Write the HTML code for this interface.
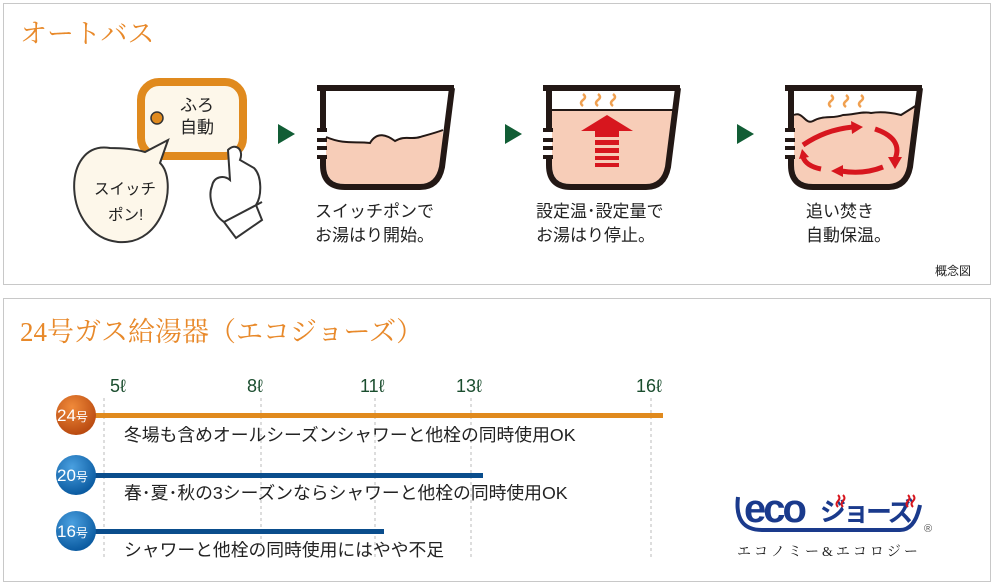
<!DOCTYPE html>
<html><head><meta charset="utf-8"><style>
body{margin:0;background:#fff;width:994px;height:585px;overflow:hidden}
svg{display:block}
.t{font-family:"Liberation Sans","Noto Sans CJK JP",sans-serif;fill:#222}
.h{font-family:"Liberation Serif","Noto Serif CJK SC",serif;fill:#e8892a}
</style></head><body>
<svg width="994" height="585" viewBox="0 0 994 585">
<defs>
<g id="tub">
 <path d="M2,3 H139" stroke="#231815" stroke-width="6" fill="none"/>
 <path d="M137,3 L127,82 Q123,102 105,102 H30 Q8,102 8,80 V72" stroke="#231815" stroke-width="6" fill="none"/>
 <path d="M8,3 V45" stroke="#231815" stroke-width="6" fill="none"/>
 <path d="M2,45 H12 M2,55 H12 M2,63 H12 M2,72 H12" stroke="#231815" stroke-width="4"/>
</g>
<g id="steam" stroke="#f0a050" stroke-width="2.5" fill="none">
 <path d="M0,0 q4,3 0,6 q-4,3 0,6"/>
</g>
</defs>
<rect x="3.5" y="3.5" width="987" height="281" fill="#fff" stroke="#c8c8c8"/>
<rect x="3.5" y="298.5" width="987" height="283" fill="#fff" stroke="#c8c8c8"/>
<text class="h" x="20" y="43" font-size="27">オートバス</text>
<text class="h" x="20" y="341" font-size="27">24号ガス給湯器（エコジョーズ）</text>
<!-- button -->
<rect x="141" y="82" width="102" height="74" rx="18" fill="#fdf7ea" stroke="#e08a1e" stroke-width="8"/>
<circle cx="157" cy="118" r="6" fill="#e08a1e" stroke="#333" stroke-width="1.5"/>
<text class="t" x="180" y="111" font-size="17">ふろ</text>
<text class="t" x="180" y="133" font-size="17">自動</text>
<!-- bubble -->
<path d="M110,148 C60,140 62,236 118,242 C165,246 178,180 160,163 L168,140 L145,152 C135,149 120,148 110,148Z" fill="#fdf7ea" stroke="#333" stroke-width="2"/>
<text class="t" x="94" y="194" font-size="15.5">スイッチ</text>
<text class="t" x="108" y="220" font-size="15.5">ポン!</text>
<!-- hand -->
<path d="M228,150 C236,142 244,150 240,160 L254,168 C262,176 262,196 256,205 L262,220 L236,238 L224,222 C212,214 208,196 212,186 C214,176 224,175 230,180 Z" fill="#fff" stroke="#333" stroke-width="2"/>
<path d="M224,222 L262,202" stroke="#333" stroke-width="2"/>
<!-- arrows -->
<path d="M278,124 L295,134 L278,144Z" fill="#115d35"/>
<path d="M505,124 L522,134 L505,144Z" fill="#115d35"/>
<path d="M737,124 L754,134 L737,144Z" fill="#115d35"/>
<!-- tub 1 -->
<g transform="translate(315,85)">
 <path d="M11,52 C30,60 40,56 55,58 C62,46 72,50 80,56 C90,50 96,55 105,52 C112,50 120,48 128,45 L126,82 Q122,99 105,99 H30 Q11,99 11,80Z" fill="#f7cdb8"/>
 <path d="M11,52 C30,60 40,56 55,58 C62,46 72,50 80,56 C90,50 96,55 105,52 C112,50 120,48 128,45" stroke="#231815" stroke-width="2" fill="none"/>
 <use href="#tub"/>
</g>
<text class="t" x="315" y="217" font-size="17">スイッチポンで</text>
<text class="t" x="315" y="241" font-size="17">お湯はり開始。</text>
<!-- tub 2 -->
<g transform="translate(541,85)">
 <path d="M11,25 H134 L127,82 Q122,99 105,99 H30 Q11,99 11,80Z" fill="#f7cdb8"/>
 <path d="M11,25 H134" stroke="#231815" stroke-width="2"/>
 <use href="#steam" x="42" y="9"/><use href="#steam" x="57" y="9"/><use href="#steam" x="72" y="9"/>
 <path d="M40,46 L66,30 L92,46 H78 V52 H54 V46Z" fill="#d7161e"/>
 <rect x="54" y="55" width="24" height="5" fill="#d7161e"/><rect x="54" y="63" width="24" height="5" fill="#d7161e"/><rect x="54" y="71" width="24" height="4" fill="#d7161e"/><rect x="54" y="78" width="24" height="4" fill="#d7161e"/>
 <use href="#tub"/>
</g>
<text class="t" x="536" y="217" font-size="17">設定温･設定量で</text>
<text class="t" x="536" y="241" font-size="17">お湯はり停止。</text>
<!-- tub 3 -->
<g transform="translate(783,85)">
 <path d="M11,30 C20,26 22,40 30,36 C40,30 50,34 60,30 C70,30 80,26 88,28 C100,26 110,28 118,30 L134,20 L127,82 Q122,99 105,99 H30 Q11,99 11,80Z" fill="#f7cdb8"/>
 <path d="M11,30 C20,26 22,40 30,36 C40,30 50,34 60,30 C70,30 80,26 88,28 C100,26 110,28 118,30 L134,20" stroke="#231815" stroke-width="2" fill="none"/>
 <use href="#steam" x="48" y="10"/><use href="#steam" x="63" y="10"/><use href="#steam" x="78" y="10"/>
 <g stroke="#d7161e" stroke-width="5" fill="none">
  <path d="M20,60 C35,50 50,44 70,42"/>
  <path d="M92,44 C110,50 118,60 112,74"/>
  <path d="M100,82 C85,88 70,88 58,86"/>
  <path d="M38,84 C28,82 22,78 20,72"/>
 </g>
 <g fill="#d7161e">
  <path d="M68,36 L80,42 L69,49Z"/><path d="M105,72 L112,84 L119,72Z"/><path d="M60,80 L48,86 L60,92Z"/><path d="M16,74 L19,64 L26,72Z"/>
 </g>
 <use href="#tub"/>
</g>
<text class="t" x="806" y="217" font-size="17">追い焚き</text>
<text class="t" x="806" y="241" font-size="17">自動保温。</text>
<text class="t" x="935" y="275" font-size="12">概念図</text>
<!-- chart -->
<g stroke="#bbb" stroke-dasharray="3,3" stroke-width="1">
 <path d="M104,398 V560 M261,398 V560 M375,398 V560 M471,398 V560 M651,398 V560"/>
</g>
<g class="t" font-size="18" style="fill:#1a4d2e">
 <text x="110" y="392">5ℓ</text><text x="247" y="392">8ℓ</text><text x="360" y="392">11ℓ</text><text x="456" y="392">13ℓ</text><text x="636" y="392">16ℓ</text>
</g>
<rect x="90" y="413" width="573" height="5" fill="#e08a1e"/>
<rect x="90" y="473" width="393" height="5" fill="#0a4d8c"/>
<rect x="90" y="529" width="294" height="5" fill="#0a4d8c"/>
<defs>
<radialGradient id="og" cx="40%" cy="30%" r="70%"><stop offset="0" stop-color="#f08a3a"/><stop offset="1" stop-color="#b94a10"/></radialGradient>
<radialGradient id="bg" cx="40%" cy="30%" r="70%"><stop offset="0" stop-color="#4aa0e0"/><stop offset="1" stop-color="#0a5aa0"/></radialGradient>
</defs>
<circle cx="76" cy="415" r="20" fill="url(#og)"/>
<circle cx="76" cy="475" r="20" fill="url(#bg)"/>
<circle cx="76" cy="531" r="20" fill="url(#bg)"/>
<g font-family="Liberation Sans,Noto Sans CJK JP,sans-serif" fill="#fff" font-size="17">
 <text x="57" y="421">24<tspan font-size="12">号</tspan></text>
 <text x="57" y="481">20<tspan font-size="12">号</tspan></text>
 <text x="57" y="537">16<tspan font-size="12">号</tspan></text>
</g>
<text class="t" x="124" y="441" font-size="17.8">冬場も含めオールシーズンシャワーと他栓の同時使用OK</text>
<text class="t" x="124" y="499" font-size="17.8">春･夏･秋の3シーズンならシャワーと他栓の同時使用OK</text>
<text class="t" x="124" y="556" font-size="17.8">シャワーと他栓の同時使用にはやや不足</text>
<!-- eco logo -->
<path d="M738,497 Q734,530 762,530 H900 Q915,530 920,505" stroke="#1a3a8c" stroke-width="4" fill="none"/>
<text x="744" y="522" font-family="Liberation Sans,sans-serif" font-weight="bold" font-size="40" fill="#1a3a8c" letter-spacing="-3">eco</text>
<text x="820" y="521" font-family="Liberation Sans,Noto Sans CJK JP,sans-serif" font-weight="bold" font-size="26" fill="#1a3a8c" letter-spacing="-3">ジョーズ</text>
<path d="M838,495 q3,3 0,6 q-3,3 0,6 M843,495 q3,3 0,6 q-3,3 0,6 M908,495 q3,3 0,6 q-3,3 0,6 M913,495 q3,3 0,6 q-3,3 0,6" stroke="#d7161e" stroke-width="2" fill="none"/>
<text x="924" y="532" font-size="11" fill="#555" font-family="Liberation Sans,sans-serif">®</text>
<text class="t" x="737" y="556" font-size="14" letter-spacing="3" style="font-family:'Liberation Serif','Noto Serif CJK SC',serif">エコノミー&amp;エコロジー</text>
</svg>
</body></html>
